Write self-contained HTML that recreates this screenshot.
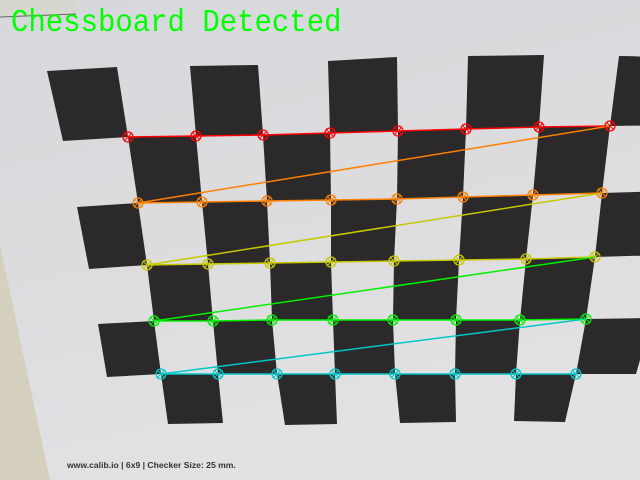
<!DOCTYPE html>
<html><head><meta charset="utf-8"><style>
html,body{margin:0;padding:0;width:640px;height:480px;overflow:hidden;background:#dcdcde}
svg{display:block}
</style></head><body>
<svg id="c" width="640" height="480" viewBox="0 0 640 480">
<defs>
<linearGradient id="paper" x1="0" y1="0" x2="0.3" y2="1">
<stop offset="0" stop-color="#d6d8dc"/><stop offset="0.5" stop-color="#dcdcde"/><stop offset="1" stop-color="#e2e2e4"/>
</linearGradient>
</defs>
<rect x="0" y="0" width="640" height="480" fill="url(#paper)"/>
<polygon points="0,0 78,0 76,14 0,17" fill="#d8d7cf"/>
<line x1="0" y1="17" x2="76" y2="14" stroke="#666" stroke-width="1"/>
<polygon points="0,245 50,480 0,480" fill="#d4d0bd"/>
<g id="squares"></g>
<g id="lines"></g>
<g id="marks"></g>
<text x="67" y="468" font-family="Liberation Sans, sans-serif" font-size="8.6" font-weight="bold" fill="#333">www.calib.io | 6x9 | Checker Size: 25 mm.</text>
<text x="11" y="31" font-family="Liberation Mono, monospace" font-size="29" fill="#00ff00" transform="translate(0,-3) scale(1,1.1)">Chessboard Detected</text>
</svg>
<script>
const rowColors = ['#ff0000','#ff8000','#c8c800','#00f000','#00c8c8'];
const cornerX = [
 [128,196,263,330,398,466,539,610],
 [138,202,267,331,397,463,533,602],
 [147,208,270,331,394,459,526,595],
 [154,213,272,333,393,456,520,586],
 [161,218,277,335,395,455,516,576]
];
const cornerY = [
 [137,136,135,133,131,129,127,126],
 [203,202,201,200,199,197,195,193],
 [265,264,263,262,261,260,259,257],
 [321,321,320,320,320,320,320,319],
 [374,374,374,374,374,374,374,374]
];
const NS='http://www.w3.org/2000/svg';
const R=cornerX.length, C=cornerX[0].length;
// extended grid: columns linear, rows quadratic extrapolation
function ext(arr){
  const rows=arr.map(r=>[2*r[0]-r[1]+3,...r,2*r[r.length-1]-r[r.length-2]]);
  const n=rows.length;
  const first=rows[0].map((v,j)=>3*v-3*rows[1][j]+rows[2][j]);
  const last=rows[n-1].map((v,j)=>3*v-3*rows[n-2][j]+rows[n-3][j]);
  return [first,...rows,last];
}
const EX=ext(cornerX), EY=ext(cornerY);
const sq=document.getElementById('squares');
for(let i=0;i<R+1;i++){for(let j=0;j<C+1;j++){
  if((i+j)%2!==0) continue;
  const p=document.createElementNS(NS,'polygon');
  p.setAttribute('points',[[i,j],[i,j+1],[i+1,j+1],[i+1,j]].map(([a,b])=>EX[a][b]+','+EY[a][b]).join(' '));
  p.setAttribute('fill','#2b2929');
  
  
  sq.appendChild(p);
}}
const ln=document.getElementById('lines'), mk=document.getElementById('marks');
let prev=null;
for(let i=0;i<R;i++){for(let j=0;j<C;j++){
  const x=cornerX[i][j], y=cornerY[i][j], col=rowColors[i];
  if(prev){
    const l=document.createElementNS(NS,'line');
    l.setAttribute('x1',prev[0]);l.setAttribute('y1',prev[1]);l.setAttribute('x2',x);l.setAttribute('y2',y);
    l.setAttribute('stroke',col);l.setAttribute('stroke-width','1.5');
    
    
    ln.appendChild(l);
  }
  prev=[x,y];
  const g=document.createElementNS(NS,'g');
  
  
  const c=document.createElementNS(NS,'circle');
  c.setAttribute('cx',x);c.setAttribute('cy',y);c.setAttribute('r',5);
  c.setAttribute('fill','none');c.setAttribute('stroke',col);c.setAttribute('stroke-width','1.3');
  g.appendChild(c);
  const pth=document.createElementNS(NS,'path');
  pth.setAttribute('d',`M${x-4},${y-4}L${x+4},${y+4}M${x-4},${y+4}L${x+4},${y-4}`);
  pth.setAttribute('stroke',col);pth.setAttribute('stroke-width','1');
  g.appendChild(pth);
  mk.appendChild(g);
}}
</script>
</body></html>
